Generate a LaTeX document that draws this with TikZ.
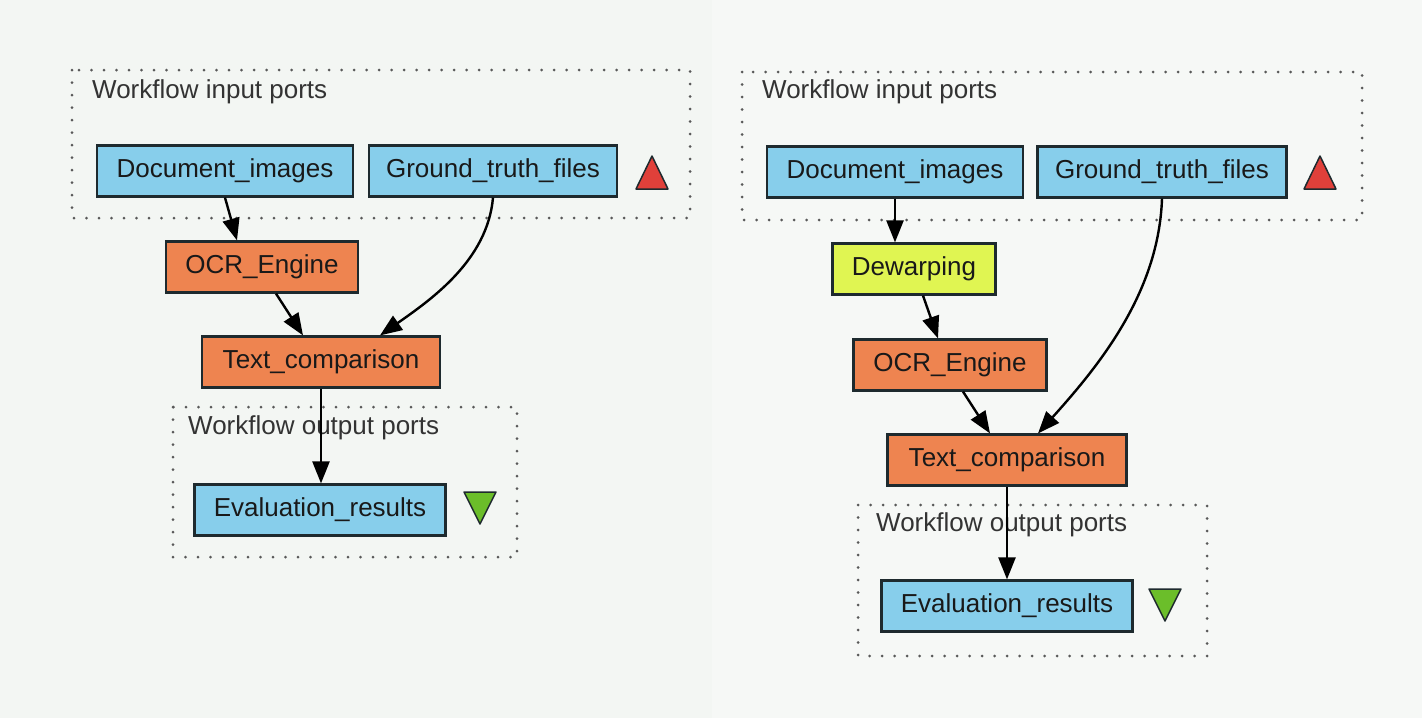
\documentclass[tikz,border=0pt]{standalone}
\usepackage{fontspec}
\setmainfont{Liberation Sans}
\usetikzlibrary{arrows.meta}

\definecolor{bgleft}{HTML}{F3F6F3}
\definecolor{bgright}{HTML}{F6F8F6}
\definecolor{portblue}{HTML}{87CEEB}
\definecolor{procorange}{HTML}{EE8450}
\definecolor{dewarpyellow}{HTML}{E0F552}
\definecolor{edgedark}{HTML}{1E2A2E}
\definecolor{upred}{HTML}{E0403A}
\definecolor{downgreen}{HTML}{6BBE2A}

\tikzset{
    box/.style={draw=edgedark, line width=2.2pt, inner sep=0pt,
        minimum height=51pt, text=black!90,
        font=\fontsize{26}{30}\selectfont},
    port/.style={box, fill=portblue},
    proc/.style={box, fill=procorange},
    dewarp/.style={box, fill=dewarpyellow},
    portgroup/.style={draw=gray!70!black, line width=3pt, line cap=round,
        dash pattern=on 0pt off 12.5pt},
    grouplabel/.style={anchor=west, inner sep=0pt, text=black!80,
        font=\fontsize{26}{30}\selectfont},
    flow/.style={line width=2.4pt, -{Triangle[length=22pt, width=17pt]}}
}

\begin{document}
\begin{tikzpicture}[x=1pt, y=-1pt]
            % background
            \useasboundingbox (0,0) rectangle (1422,718);
            \fill[bgleft] (0,0) rectangle (712,718);
            \fill[bgright] (712,0) rectangle (1422,718);

            % left workflow: port groups
            \draw[portgroup] (72,70) rectangle (690,218);
            \node[grouplabel] (inlabelA) at (92,92) {Workflow input ports};
            \draw[portgroup] (173,407) rectangle (517,557);
            \node[grouplabel] (outlabelA) at (188,428) {Workflow output ports};

            % left workflow: nodes
            \node[port, minimum width=256pt] (docimgA) at (225,171) {Document\_images};
            \node[port, minimum width=248pt] (truthA) at (493,171) {Ground\_truth\_files};
            \node[proc, minimum width=192pt] (ocrA) at (262,267) {OCR\_Engine};
            \node[proc, minimum width=238pt] (compareA) at (321,362) {Text\_comparison};
            \node[port, minimum width=251pt] (evalA) at (320,510) {Evaluation\_results};

            % left workflow: links
            \draw[flow] (docimgA.south) -- ([xshift=-25pt]ocrA.north);
            \draw[flow] ([xshift=14pt]ocrA.south) -- ([xshift=-18pt]compareA.north);
            \draw[flow] (truthA.south) to[out=-95, in=35, looseness=0.9] ([xshift=59pt]compareA.north);
            \draw[flow] (compareA.south) -- (compareA.south |- evalA.north);

            % right workflow: port groups
            \draw[portgroup] (742,72) rectangle (1362,220);
            \node[grouplabel] (inlabelB) at (762,92) {Workflow input ports};
            \draw[portgroup] (858,505) rectangle (1207,656);
            \node[grouplabel] (outlabelB) at (876,525) {Workflow output ports};

            % right workflow: nodes
            \node[port, minimum width=256pt] (docimgB) at (895,172) {Document\_images};
            \node[port, minimum width=249pt] (truthB) at (1162,172) {Ground\_truth\_files};
            \node[dewarp, minimum width=163pt] (dewarpB) at (914,269) {Dewarping};
            \node[proc, minimum width=193pt] (ocrB) at (950,365) {OCR\_Engine};
            \node[proc, minimum width=239pt] (compareB) at (1007,460) {Text\_comparison};
            \node[port, minimum width=251pt] (evalB) at (1007,606) {Evaluation\_results};

            % right workflow: links
            \draw[flow] (docimgB.south) -- (docimgB.south |- dewarpB.north);
            \draw[flow] ([xshift=9pt]dewarpB.south) -- ([xshift=-12pt]ocrB.north);
            \draw[flow] ([xshift=13pt]ocrB.south) -- ([xshift=-17pt]compareB.north);
            \draw[flow] (truthB.south) to[out=-92, in=48, looseness=0.9] ([xshift=31pt]compareB.north);
            \draw[flow] (compareB.south) -- (compareB.south |- evalB.north);

            % port markers
            \foreach \u in {652, 1320}
                {
                    \draw[fill=upred, draw=edgedark, line width=1.5pt, line join=round]
                        (\u-16,189) -- (\u+16,189) -- (\u,156) -- cycle;
                }
            \foreach \u/\v in {480/507, 1165/604}
                {
                    \draw[fill=downgreen, draw=edgedark, line width=1.5pt, line join=round]
                        (\u-16,\v-15) -- (\u+16,\v-15) -- (\u,\v+17) -- cycle;
                }

        \end{tikzpicture}
\end{document}
